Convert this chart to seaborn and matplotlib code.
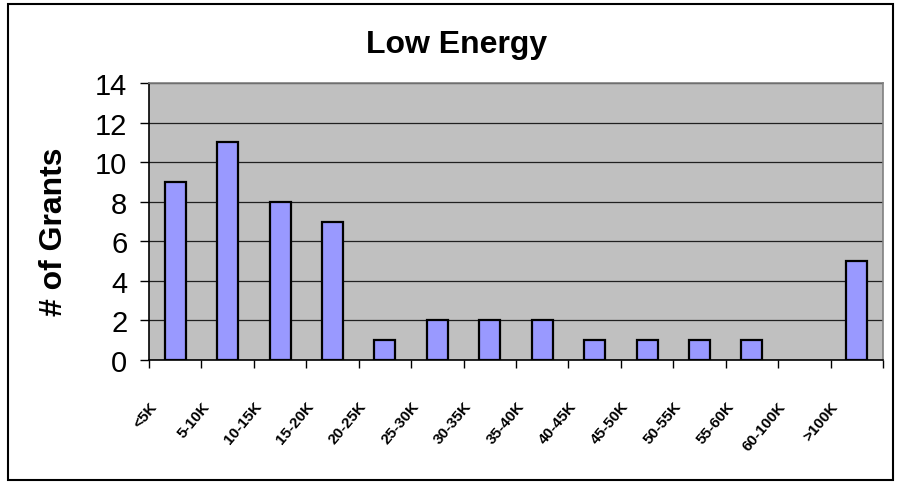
import matplotlib
matplotlib.use("Agg")
import matplotlib.pyplot as plt
import seaborn as sns
import pandas as pd
from matplotlib.patches import Rectangle
from matplotlib.ticker import FixedLocator

# Grant counts per award-size bracket
categories = ["<5K", "5-10K", "10-15K", "15-20K", "20-25K", "25-30K", "30-35K",
              "35-40K", "40-45K", "45-50K", "50-55K", "55-60K", "60-100K", ">100K"]
grants = [9, 11, 8, 7, 1, 2, 2, 2, 1, 1, 1, 1, 0, 5]
yticks = [0, 2, 4, 6, 8, 10, 12, 14]

df = pd.DataFrame({"bracket": categories, "grants": grants})

sns.set_theme(style="white")
plt.rcParams["font.family"] = ["Liberation Sans", "DejaVu Sans"]
plt.rcParams["text.color"] = "black"
plt.rcParams["xtick.color"] = "black"
plt.rcParams["ytick.color"] = "black"
plt.rcParams["xtick.labelcolor"] = "black"
plt.rcParams["ytick.labelcolor"] = "black"

fig = plt.figure(figsize=(9.01, 4.85), dpi=100)
ax = fig.add_axes([149 / 901, 124 / 485, 734 / 901, 277 / 485])
ax.set_facecolor("#C0C0C0")

sns.barplot(data=df, x="bracket", y="grants", color="#9999FF", saturation=1,
            width=0.40, edgecolor="black", linewidth=1.6, ax=ax, zorder=3)
for bar in ax.patches:
    if bar.get_height() == 0:
        bar.set_linewidth(0)

ax.set_ylim(0, 14)
ax.set_xlim(-0.5, len(categories) - 0.5)
ax.yaxis.set_major_locator(FixedLocator(yticks))
ax.grid(axis="y", color="#202020", linewidth=0.9, zorder=0)
ax.set_axisbelow(True)

for side in ["top", "right"]:
    ax.spines[side].set_color("#808080")
    ax.spines[side].set_linewidth(1.2)
for side in ["left", "bottom"]:
    ax.spines[side].set_color("black")
    ax.spines[side].set_linewidth(1.2)

ax.tick_params(axis="y", direction="out", length=6.5, width=1, color="black",
               labelsize=21, pad=9, left=True)

# category labels sit at the left edge of each bracket, slanted;
# tick marks separate the brackets
ax.set_xticks([i - 0.5 for i in range(len(categories))])
ax.set_xticklabels(categories, rotation=50, ha="right", rotation_mode="anchor",
                   fontsize=11, fontweight="bold")
ax.tick_params(axis="x", which="major", direction="out", length=6, width=1,
               color="black", bottom=True, pad=22)
ax.xaxis.set_minor_locator(FixedLocator([len(categories) - 0.5]))
ax.tick_params(axis="x", which="minor", direction="out", length=6, width=1,
               color="black", bottom=True)

ax.set_xlabel("")
ax.set_ylabel("")
fig.text(54 / 901, 1 - 232 / 485, "# of Grants", rotation=90, ha="center",
         va="center", fontsize=23, fontweight="bold")
fig.text(457 / 901, 1 - 45 / 485, "Low Energy", ha="center", va="center",
         fontsize=23, fontweight="bold")

# outer chart frame
fig.patches.append(Rectangle((8 / 901, 4 / 485), 885 / 901, 476 / 485,
                             transform=fig.transFigure, fill=False,
                             edgecolor="black", linewidth=1.5))

fig.savefig("out.png", dpi=100)
